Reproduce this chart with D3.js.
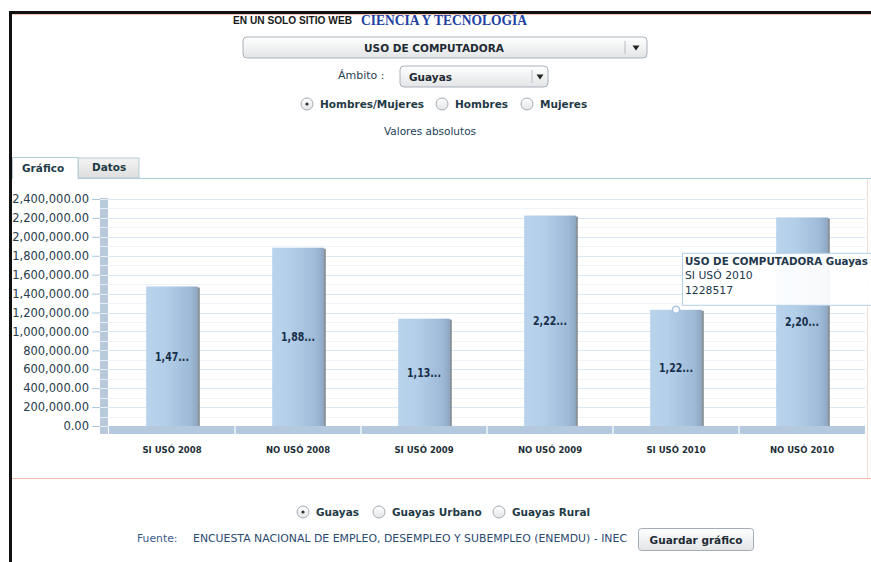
<!DOCTYPE html>
<html>
<head>
<meta charset="utf-8">
<script src="https://cdn.jsdelivr.net/npm/d3@7"></script>
<style>
  body { margin: 0; background: #fff; }
  svg text { font-family: "DejaVu Sans", Verdana, sans-serif; }
</style>
</head>
<body>
<div id="wrapper"></div>
<script>
// data
const categories = ["SI USÓ 2008", "NO USÓ 2008", "SI USÓ 2009", "NO USÓ 2009", "SI USÓ 2010", "NO USÓ 2010"];
const values = [1475000, 1885000, 1135000, 2225000, 1228517, 2205000];
const yTicks = [0, 200000, 400000, 600000, 800000, 1000000, 1200000, 1400000, 1600000, 1800000, 2000000, 2200000, 2400000];
const sexOptions = ["Hombres/Mujeres", "Hombres", "Mujeres"];
const areaOptions = ["Guayas", "Guayas Urbano", "Guayas Rural"];
const tooltipLines = ["USO DE COMPUTADORA Guayas", "SI USÓ 2010", "1228517"];
const hoverIndex = 4;

let dimensions = {
    width: 871,
    height: 562,
    plot: { left: 109, right: 865, top: 199, bottom: 426 },
};

const svg = d3.select("#wrapper")
    .append("svg")
    .attr("width", dimensions.width)
    .attr("height", dimensions.height)

const defs = svg.append("defs");

const barGrad = defs.append("linearGradient").attr("id", "barGrad")
    .attr("x1", "0%").attr("x2", "100%").attr("y1", "0%").attr("y2", "0%");
[["#b9d3ec", 0], ["#b4cfea", 0.35], ["#9fbad6", 0.85], ["#8ea8c4", 1]].forEach(s =>
    barGrad.append("stop").attr("offset", s[1]).attr("stop-color", s[0]));

const btnGrad = defs.append("linearGradient").attr("id", "btnGrad")
    .attr("x1", "0%").attr("x2", "0%").attr("y1", "0%").attr("y2", "100%");
btnGrad.append("stop").attr("offset", 0).attr("stop-color", "#ffffff");
btnGrad.append("stop").attr("offset", 1).attr("stop-color", "#e2e4e6");

const tabGrad = defs.append("linearGradient").attr("id", "tabGrad")
    .attr("x1", "0%").attr("x2", "0%").attr("y1", "0%").attr("y2", "100%");
tabGrad.append("stop").attr("offset", 0).attr("stop-color", "#f4f4f4");
tabGrad.append("stop").attr("offset", 1).attr("stop-color", "#dedede");

// page frame
svg.append("rect").attr("x", 9).attr("y", 11).attr("width", 862).attr("height", 3).attr("fill", "#111");
svg.append("rect").attr("x", 9).attr("y", 11).attr("width", 3).attr("height", 551).attr("fill", "#111");
svg.append("line").attr("x1", 12).attr("x2", 871).attr("y1", 14.5).attr("y2", 14.5)
    .attr("stroke", "#f6c8b4").attr("stroke-width", 1);

// header
svg.append("text").attr("x", 233).attr("y", 24)
    .style("font-family", "'Liberation Sans', Arial, sans-serif")
    .attr("font-size", 11.5).attr("font-weight", "bold").attr("fill", "#1a1a1a")
    .attr("textLength", 119).attr("lengthAdjust", "spacingAndGlyphs")
    .text("EN UN SOLO SITIO WEB");
svg.append("text").attr("x", 361).attr("y", 25)
    .style("font-family", "'Liberation Serif', 'DejaVu Serif', serif")
    .attr("font-size", 14).attr("font-weight", "bold").attr("fill", "#2341a3")
    .attr("textLength", 166).attr("lengthAdjust", "spacingAndGlyphs")
    .text("CIENCIA Y TECNOLOGÍA");

function dropdown(x, y, w, h, sep, label, labelX, anchor) {
    const g = svg.append("g");
    g.append("rect").attr("x", x).attr("y", y).attr("width", w).attr("height", h).attr("rx", 4)
        .attr("fill", "url(#btnGrad)").attr("stroke", "#a9b2ba");
    g.append("line").attr("x1", sep).attr("x2", sep).attr("y1", y + 4).attr("y2", y + h - 4)
        .attr("stroke", "#b8bec4");
    g.append("path")
        .attr("d", `M${(sep + x + w) / 2 - 3.5},${y + h / 2 - 2} l7,0 l-3.5,5 z`)
        .attr("fill", "#222");
    g.append("text").attr("x", labelX).attr("y", y + h / 2 + 4)
        .attr("text-anchor", anchor).attr("font-size", 10.5).attr("font-weight", "bold")
        .attr("fill", "#1e2a34").text(label);
}
dropdown(243, 37, 404, 21, 625, "USO DE COMPUTADORA", 434, "middle");
svg.append("text").attr("x", 338).attr("y", 79).attr("font-size", 11).attr("fill", "#2c4454").text("Ámbito :");
dropdown(400, 66, 148, 21, 532, "Guayas", 409, "start");

function radioRow(options, xs, y, selected) {
    options.forEach((o, i) => {
        const g = svg.append("g").attr("transform", `translate(${xs[i]},${y})`);
        g.append("circle").attr("r", 6).attr("fill", "url(#btnGrad)").attr("stroke", "#a4acb4");
        if (i === selected) g.append("circle").attr("r", 1.6).attr("fill", "#333");
        g.append("text").attr("x", 13).attr("y", 4).attr("font-size", 10.5).attr("font-weight", "bold")
            .attr("fill", "#1f3a46").text(o);
    });
}
radioRow(sexOptions, [307, 442, 527], 104, 0);

svg.append("text").attr("x", 430).attr("y", 135).attr("text-anchor", "middle")
    .attr("font-size", 10.5).attr("fill", "#24425a").text("Valores absolutos");

// tabs
svg.append("line").attr("x1", 12).attr("x2", 871).attr("y1", 178.5).attr("y2", 178.5).attr("stroke", "#a9cfd8");
svg.append("rect").attr("x", 78).attr("y", 158).attr("width", 61).attr("height", 20)
    .attr("fill", "url(#tabGrad)").attr("stroke", "#b4ccd4");
svg.append("path").attr("d", "M12.5,179 V157.5 H78 V179").attr("fill", "#fff").attr("stroke", "#b4ccd4");
svg.append("rect").attr("x", 13).attr("y", 177).attr("width", 64).attr("height", 3).attr("fill", "#fff");
svg.append("text").attr("x", 22).attr("y", 172).attr("font-size", 10.5).attr("font-weight", "bold")
    .attr("fill", "#1f3a46").text("Gráfico");
svg.append("text").attr("x", 92).attr("y", 171).attr("font-size", 10.5).attr("font-weight", "bold")
    .attr("fill", "#1f3a46").text("Datos");

// chart panel border
svg.append("line").attr("x1", 12).attr("x2", 871).attr("y1", 478.5).attr("y2", 478.5).attr("stroke", "#efbda8");
svg.append("line").attr("x1", 867.5).attr("x2", 867.5).attr("y1", 179).attr("y2", 478).attr("stroke", "#f6ddd2");

// scales
const yScale = d3.scaleLinear()
    .domain([0, 2400000])
    .range([dimensions.plot.bottom, dimensions.plot.top])
const xScale = d3.scaleBand()
    .domain(categories)
    .range([dimensions.plot.left, dimensions.plot.right])
const barWidth = xScale.bandwidth() * 0.41

const bounds = svg.append("g");

// minor + major gridlines
bounds.append("g").selectAll("line")
    .data(yTicks.slice(1).map(t => t - 100000))
    .join("line")
    .attr("x1", 108).attr("x2", dimensions.plot.right)
    .attr("y1", d => Math.round(yScale(d)) + 0.5).attr("y2", d => Math.round(yScale(d)) + 0.5)
    .attr("stroke", "#eef4fa");
bounds.append("g").selectAll("line")
    .data(yTicks)
    .join("line")
    .attr("x1", 108).attr("x2", dimensions.plot.right)
    .attr("y1", d => Math.round(yScale(d)) + 0.5).attr("y2", d => Math.round(yScale(d)) + 0.5)
    .attr("stroke", "#d9e8f4");

// left wall
bounds.append("rect").attr("x", 100).attr("y", yScale(2400000) - 1).attr("width", 8)
    .attr("height", dimensions.plot.bottom + 8 - yScale(2400000) + 1).attr("fill", "#b9c9dc");
bounds.append("g").selectAll("line")
    .data(d3.range(0, 2400001, 100000))
    .join("line")
    .attr("x1", 100).attr("x2", 108)
    .attr("y1", d => Math.round(yScale(d)) + 0.5).attr("y2", d => Math.round(yScale(d)) + 0.5)
    .attr("stroke", "#e8eef6");

// floor
bounds.append("rect").attr("x", dimensions.plot.left).attr("y", dimensions.plot.bottom)
    .attr("width", dimensions.plot.right - dimensions.plot.left).attr("height", 8).attr("fill", "#b5c9de");
bounds.append("g").selectAll("line")
    .data(categories.slice(1))
    .join("line")
    .attr("x1", d => xScale(d)).attr("x2", d => xScale(d))
    .attr("y1", dimensions.plot.bottom).attr("y2", dimensions.plot.bottom + 8)
    .attr("stroke", "#eef3f8").attr("stroke-width", 1.5);

// y axis
const yAxis = bounds.append("g")
    .attr("transform", "translate(100,0)")
    .call(d3.axisLeft(yScale).tickValues(yTicks).tickFormat(d3.format(",.2f")).tickSize(8).tickPadding(3));
yAxis.select(".domain").remove();
yAxis.selectAll(".tick line").attr("stroke", "#a9c8e2");
yAxis.selectAll(".tick text").attr("font-size", 11.5).attr("fill", "#283c4a")
    .style("font-family", "'DejaVu Sans', Verdana, sans-serif");

// x axis
const xAxis = bounds.append("g")
    .attr("transform", `translate(0,${dimensions.plot.bottom + 8})`)
    .call(d3.axisBottom(xScale).tickSize(0).tickPadding(13));
xAxis.select(".domain").remove();
xAxis.selectAll(".tick text").attr("font-size", 8.5).attr("font-weight", "bold").attr("fill", "#1e2e36")
    .style("font-family", "'DejaVu Sans', Verdana, sans-serif");

// bars
const bars = bounds.append("g").selectAll("g")
    .data(values)
    .join("g")
    .attr("transform", (d, i) => `translate(${xScale(categories[i]) + xScale.bandwidth() / 2 - barWidth / 2},0)`);
bars.append("rect")
    .attr("x", 2).attr("y", d => yScale(d) + 1)
    .attr("width", barWidth).attr("height", d => dimensions.plot.bottom - yScale(d) - 1)
    .attr("fill", "#6c7680").attr("opacity", 0.8);
bars.append("rect")
    .attr("x", 0).attr("y", d => yScale(d))
    .attr("width", barWidth).attr("height", d => dimensions.plot.bottom - yScale(d))
    .attr("fill", "url(#barGrad)");
bars.append("text")
    .attr("x", barWidth / 2)
    .attr("y", d => (yScale(d) + dimensions.plot.bottom) / 2 + 4.5)
    .attr("text-anchor", "middle")
    .attr("font-size", 13).attr("font-weight", "bold").attr("fill", "#172f4a")
    .attr("textLength", 34).attr("lengthAdjust", "spacingAndGlyphs")
    .text(d => d3.format(",")(d).slice(0, 4) + "...");

// hover marker and tooltip
const hx = xScale(categories[hoverIndex]) + xScale.bandwidth() / 2;
const hy = yScale(values[hoverIndex]);
bounds.append("circle").attr("cx", hx).attr("cy", hy).attr("r", 3.5)
    .attr("fill", "#fff").attr("stroke", "#a8c4e0").attr("stroke-width", 1.5);
const tip = bounds.append("g").attr("transform", `translate(${hx + 6},${hy - 57})`);
tip.append("rect").attr("x", 0.5).attr("y", 0.5).attr("width", 200).attr("height", 52)
    .attr("fill", "#fff").attr("fill-opacity", 0.92).attr("stroke", "#b2d0e6");
tip.selectAll("text")
    .data(tooltipLines)
    .join("text")
    .attr("x", 3).attr("y", (d, i) => 12 + i * 14.5)
    .attr("font-size", (d, i) => i === 0 ? 10.3 : 10.8)
    .attr("font-weight", (d, i) => i === 0 ? "bold" : "normal")
    .attr("fill", "#23384c")
    .text(d => d);

// bottom controls
radioRow(areaOptions, [303, 379, 499], 512, 0);
svg.append("text").attr("x", 137).attr("y", 542).attr("font-size", 10.8).attr("fill", "#3a5a8c").text("Fuente:");
svg.append("text").attr("x", 193).attr("y", 542).attr("font-size", 10.8).attr("fill", "#2b4a70")
    .attr("textLength", 434).attr("lengthAdjust", "spacingAndGlyphs")
    .text("ENCUESTA NACIONAL DE EMPLEO, DESEMPLEO Y SUBEMPLEO (ENEMDU) - INEC");
svg.append("rect").attr("x", 638.5).attr("y", 528.5).attr("width", 115).attr("height", 22).attr("rx", 3)
    .attr("fill", "url(#btnGrad)").attr("stroke", "#a4acb4");
svg.append("text").attr("x", 696).attr("y", 544).attr("text-anchor", "middle")
    .attr("font-size", 10.5).attr("font-weight", "bold").attr("fill", "#1e2a34").text("Guardar gráfico");
</script>
</body>
</html>
